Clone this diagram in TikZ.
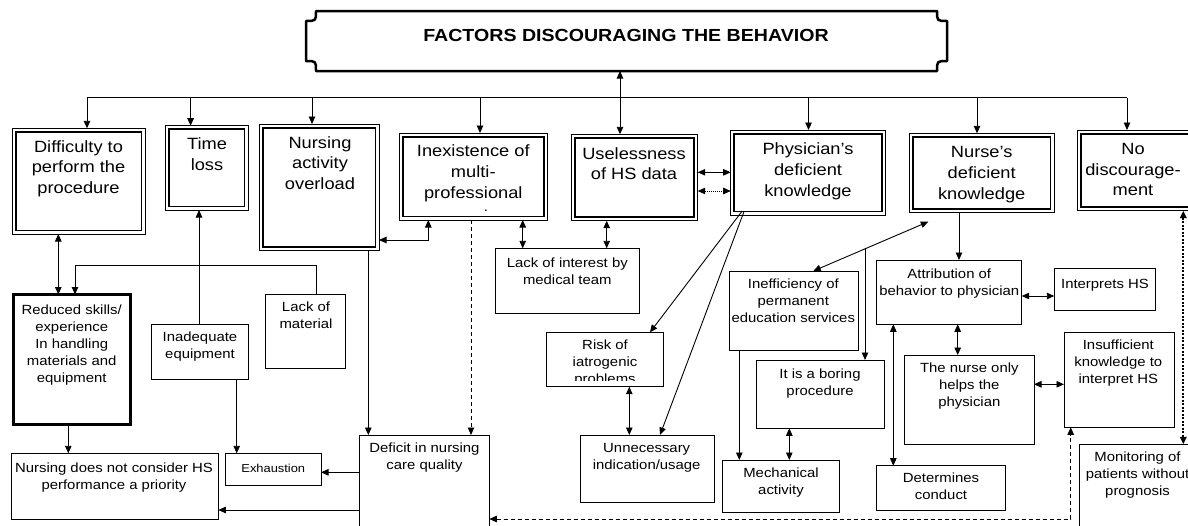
\documentclass[tikz,border=0pt]{standalone}
\usepackage{fontspec}
\setmainfont{Liberation Sans}[FakeStretch=1.12]
\usetikzlibrary{arrows.meta,calc}
\newcommand\bigf{\fontsize{16.3}{20.8}\selectfont}
\newcommand\smf{\fontsize{13.3}{17}\selectfont}
\newcommand\tinyf{\fontsize{11.5}{14}\selectfont}
\newcommand\titlef{\fontsize{17.5}{21}\selectfont\bfseries}
\newcommand\vcon[4]{\coordinate (vtmp) at (#2,0); \draw[#1] (vtmp |- #3) -- (vtmp |- #4);}
\newcommand\hcon[4]{\coordinate (htmp) at (0,#2); \draw[#1] (htmp -| #3) -- (htmp -| #4);}
\newcommand\dblbox[4]{\node[outerbox, minimum width=#3pt, minimum height=#4pt] (#1) at (#2) {};
  \draw[line width=1.8pt] ($(#1.north west)+(3.6,3.6)$) rectangle ($(#1.south east)+(-3.6,-3.6)$);}
\newcommand\plainbox[4]{\node[box, minimum width=#3pt, minimum height=#4pt] (#1) at (#2) {};}
\tikzset{
  ln/.style={line width=0.9pt},
  tip/.tip={Triangle[length=7.5pt,width=6.5pt]},
  arr/.style={ln,-tip},
  darr/.style={ln,tip-tip},
  dsh/.style={dash pattern=on 4pt off 3pt},
  box/.style={draw, line width=0.9pt, inner sep=0pt, outer sep=0pt, rectangle},
  outerbox/.style={draw, line width=1pt, inner sep=0pt, outer sep=0pt, rectangle},
  txt/.style={inner sep=0pt, outer sep=0pt, align=center, anchor=north, execute at begin node=\strut},
  bt/.style={txt, font=\bigf},
  st/.style={txt, font=\smf},
}
\begin{document}
\begin{tikzpicture}[x=1pt,y=-1pt]
\useasboundingbox (0,0) rectangle (1188,525);
\clip (0,0) rectangle (1188,525);

% title plaque
\node[minimum width=641pt, minimum height=60pt, inner sep=0pt, outer sep=0pt] (title) at (626.5,41) {};
\def\rr{10}
\draw[line width=2.5pt, line join=round]
  ($(title.north west)+(\rr,0)$) -- ($(title.north east)+(-\rr,0)$)
  .. controls ($(title.north east)+(-\rr,\rr)$) .. ($(title.north east)+(0,\rr)$)
  -- ($(title.south east)+(0,-\rr)$)
  .. controls ($(title.south east)+(-\rr,-\rr)$) .. ($(title.south east)+(-\rr,0)$)
  -- ($(title.south west)+(\rr,0)$)
  .. controls ($(title.south west)+(\rr,-\rr)$) .. ($(title.south west)+(0,-\rr)$)
  -- ($(title.north west)+(0,\rr)$)
  .. controls ($(title.north west)+(\rr,\rr)$) .. ($(title.north west)+(\rr,0)$) -- cycle;
\node[font=\titlef, inner sep=0pt, anchor=base] (title-t) at (626,41.3) {FACTORS DISCOURAGING THE BEHAVIOR};

% top row (double borders)
\dblbox{diff}{78.85,181.15}{132.3}{105.7}
\dblbox{time}{206.5,167.85}{83}{84.3}
\dblbox{overload}{319,187.35}{120}{126.7}
\dblbox{inex}{473.35,176.5}{148.7}{87}
\dblbox{useless}{634.7,177.5}{126}{86.4}
\dblbox{phys}{808.2,172.5}{155}{85}
\dblbox{nurse}{981.5,173}{145}{79.4}
\dblbox{nodisc}{1135.65,170.35}{116.7}{80.7}

\node[bt] (diff-t) at (78.5,140.3) {Difficulty to\\perform the\\procedure};
\node[bt] (time-t) at (207,138) {Time\\loss};
\node[bt] (overload-t) at (320,136.3) {Nursing\\activity\\overload};
\node[bt] (inex-t) at (473.3,144.6) {Inexistence of\\multi-\\professional};
\node[font=\smf, inner sep=0pt, anchor=base] (inex-dot) at (486,211) {.};
\node[bt] (useless-t) at (634,147.3) {Uselessness\\of HS data};
\node[bt] (phys-t) at (808,143) {Physician’s\\deficient\\knowledge};
\begin{scope}
\clip (900,130) rectangle (1060,202);
\node[bt] (nurse-t) at (981.7,146.3) {Nurse’s\\deficient\\knowledge};
\end{scope}
\node[bt] (nodisc-t) at (1133,143) {No\\discourage-\\ment};

% lower boxes
\node[draw, line width=3pt, inner sep=0pt, outer sep=0pt, minimum width=117pt, minimum height=130pt] (reduced) at (71.7,359.5) {};
\plainbox{lack}{305.35,331.15}{80.7}{74.3}
\plainbox{inad}{200,351.65}{96.6}{55.3}
\plainbox{exh}{273.35,469.15}{95.3}{31.7}
\plainbox{nnot}{115,486.3}{206.6}{66}
\plainbox{deficit}{424.15,485}{130.3}{100}
\plainbox{lackint}{567.15,280.8}{144.3}{65}
\plainbox{risk}{604.65,359.5}{117.3}{54.4}
\plainbox{unnec}{647,468.65}{134}{67.3}
\plainbox{ineff}{793.8,310.5}{129}{79}
\plainbox{boring}{820.15,394.15}{128.3}{68.3}
\plainbox{mech}{781,486.15}{116.6}{52.3}
\plainbox{attr}{949.2,292.15}{145}{64.3}
\plainbox{interp}{1105,289.5}{101.4}{42.4}
\plainbox{nonly}{969.15,399.5}{129.7}{89}
\plainbox{insuff}{1119,379.8}{110}{95}
\plainbox{determ}{941.2,488.2}{129}{45}
\plainbox{monit}{1139.65,492.15}{120.7}{95.7}

\node[st] (reduced-t) at (71.7,304.6) {Reduced skills/\\experience\\In handling\\materials and\\equipment};
\node[st] (lack-t) at (306,301.5) {Lack of\\material};
\node[st] (inad-t) at (200,332.2) {Inadequate\\equipment};
\node[txt, font=\tinyf] (exh-t) at (273.3,462.6) {Exhaustion};
\node[st] (nnot-t) at (114,462.9) {Nursing does not consider HS\\performance a priority};
\node[st] (deficit-t) at (424.5,442.9) {Deficit in nursing\\care quality};
\node[st] (lackint-t) at (567.3,257.9) {Lack of interest by\\medical team};
\begin{scope}
\clip (540,330) rectangle (670,380);
\node[st] (risk-t) at (605,339.6) {Risk of\\iatrogenic\\problems};
\end{scope}
\node[st] (unnec-t) at (646.7,443.6) {Unnecessary\\indication/usage};
\node[st] (ineff-t) at (793.3,278.9) {Inefficiency of\\permanent\\education services};
\node[st] (boring-t) at (820,368.9) {It is a boring\\procedure};
\node[st] (mech-t) at (781,467.9) {Mechanical\\activity};
\node[st] (attr-t) at (949.3,268.9) {Attribution of\\behavior to physician};
\node[st] (interp-t) at (1105,276.9) {Interprets HS};
\node[st] (nonly-t) at (969.3,362.9) {The nurse only\\helps the\\physician};
\node[st] (insuff-t) at (1118.3,339.6) {Insufficient\\knowledge to\\interpret HS};
\node[st] (determ-t) at (941,472.9) {Determines\\conduct};
\node[st] (monit-t) at (1137.5,452.2) {Monitoring of\\patients without\\prognosis};

% bus from title
\coordinate (busL) at (87,97.7);
\coordinate (busR) at (1127,97.7);
\draw[ln] (busL) -- (busR);
\vcon{arr}{87}{busL}{diff.north}
\vcon{arr}{190.6}{busL}{time.north}
\vcon{arr}{312}{busL}{overload.north}
\vcon{arr}{480}{busL}{inex.north}
\vcon{arr}{808.5}{busL}{phys.north}
\vcon{arr}{977}{busL}{nurse.north}
\vcon{arr}{1127}{busL}{nodisc.north}
\vcon{darr}{620}{title.south}{useless.north}

% left part
\vcon{darr}{58.3}{diff.south}{reduced.north}
\coordinate (k1) at (316.7,265);
\coordinate (k2) at (75,265);
\draw[arr] (k1 |- lack.north) -- (k1) -- (k2) -- (k2 |- reduced.north);
\vcon{arr}{199}{inad.north}{time.south}
\vcon{arr}{236.7}{inad.south}{exh.north}
\vcon{arr}{68.3}{reduced.south}{nnot.north}
\vcon{arr}{368.3}{overload.south}{deficit.north}
\coordinate (m1) at (428.3,240);
\draw[darr] (m1 |- inex.south) -- (m1) -- (m1 -| overload.east);
\vcon{arr,dsh}{471}{inex.south}{deficit.north}
\hcon{arr}{472.3}{deficit.west}{exh.east}
\hcon{arr}{510}{deficit.west}{nnot.east}

% middle part
\vcon{darr}{522.7}{inex.south}{lackint.north}
\vcon{darr}{606.7}{useless.south}{lackint.north}
\hcon{darr}{172.3}{useless.east}{phys.west}
\hcon{darr,dash pattern=on 1pt off 1pt}{191}{useless.east}{phys.west}
\coordinate (p0) at ($(phys.south west)+(11.5,-4)$);
\coordinate (p1) at ($(phys.south west)+(13.5,-4)$);
\coordinate (r1) at (650,0);
\coordinate (u1) at (660,0);
\draw[arr] (p0) -- (r1 |- risk.north);
\draw[arr] (p1) -- (u1 |- unnec.north);
\vcon{darr}{629.3}{risk.south}{unnec.north}

% right part
\coordinate (e1) at (813.3,0);
\coordinate (n1) at ($(nurse.south west)+(19.3,9)$);
\draw[darr] (e1 |- ineff.north) -- (n1);
\path (e1 |- ineff.north) -- (n1) coordinate[pos=0.4496] (j1);
\draw[arr] (j1) -- (j1 |- boring.north);
\vcon{arr}{739.3}{ineff.south}{mech.north}
\vcon{darr}{789.3}{boring.south}{mech.north}
\vcon{arr}{959}{nurse.south}{attr.north}
\hcon{darr}{296}{attr.east}{interp.west}
\vcon{darr}{957.7}{attr.south}{nonly.north}
\vcon{darr}{893.3}{attr.south}{determ.north}
\hcon{darr}{384.3}{nonly.east}{insuff.west}
\coordinate (d1) at (1070.7,519);
\draw[darr,dsh] (d1 -| deficit.east) -- (d1) -- (d1 |- insuff.south);
\vcon{darr,line width=2pt,dash pattern=on 2pt off 1.5pt}{1183.3}{nodisc.south}{monit.north}
\end{tikzpicture}
\end{document}
